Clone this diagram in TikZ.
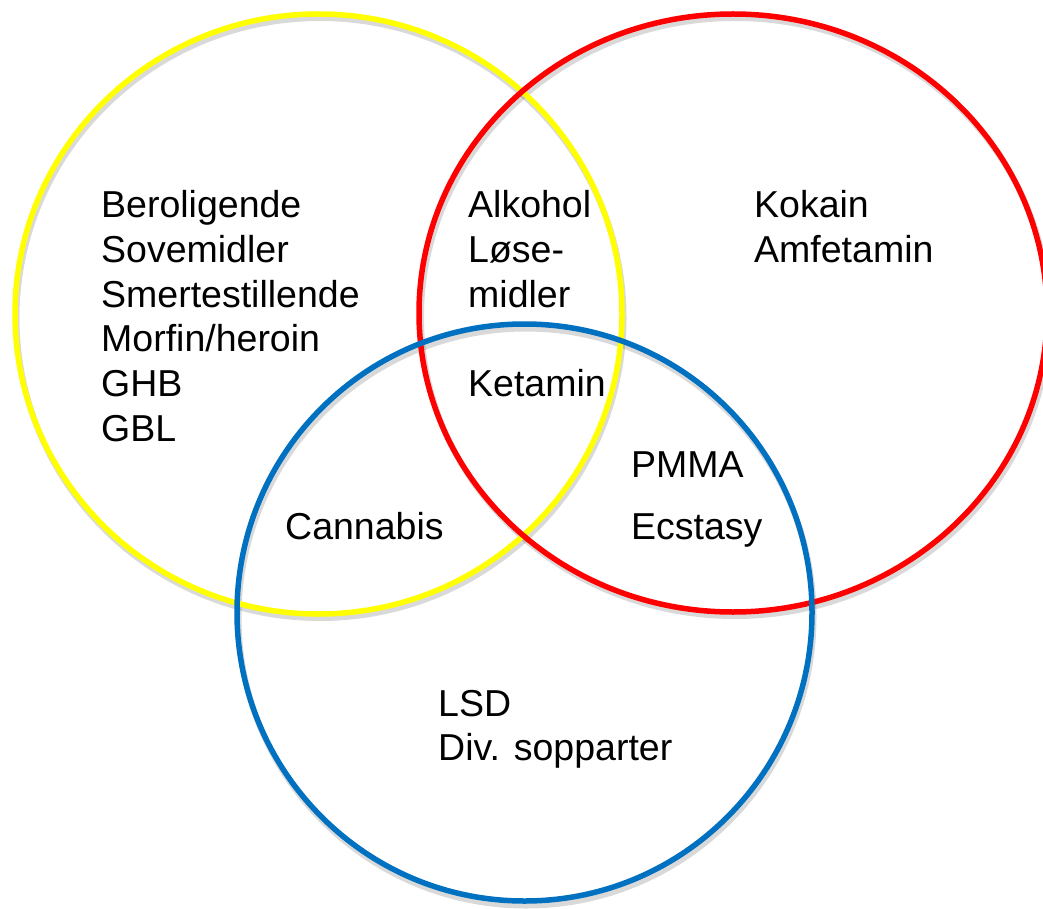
\documentclass[tikz,border=0pt]{standalone}
\usepackage{fontspec}
\setmainfont{Liberation Sans}
\definecolor{vyellow}{HTML}{FFFF00}
\definecolor{vred}{HTML}{FF0000}
\definecolor{vblue}{HTML}{0070C0}
\begin{document}
\begin{tikzpicture}[x=1pt,y=-1pt,
  ring/.style={line width=5.5pt},
  shade/.style={line width=6pt, draw=black, draw opacity=0.15},
  lbl/.style={anchor=base west, inner sep=0pt, font=\fontsize{37.5}{44.6}\selectfont}]
\useasboundingbox (0,0) rectangle (1043,909);
% shadows
\draw[shade] (320,318) ellipse [x radius=303.5pt, y radius=300pt];
\draw[shade] (735,317) ellipse [x radius=314pt, y radius=299pt];
\draw[shade] (526,617) ellipse [x radius=287.5pt, y radius=288.5pt];
% rings
\draw[ring, vyellow] (318.5,314) ellipse [x radius=303.5pt, y radius=300pt];
\draw[ring, vred] (733,313) ellipse [x radius=314pt, y radius=299pt];
\draw[ring, vblue] (524.5,612.5) ellipse [x radius=287.5pt, y radius=288.5pt];
% labels
\node[lbl] (t1) at (101,218) {Beroligende};
\node[lbl] (t2) at (101,262) {Sovemidler};
\node[lbl] (t3) at (101,307) {Smertestillende};
\node[lbl] (t4) at (101,351) {Morfin/heroin};
\node[lbl] (t5) at (101,396) {GHB};
\node[lbl] (t6) at (101,441) {GBL};
\node[lbl] (m1) at (468,218) {Alkohol};
\node[lbl] (m2) at (468,262) {Løse-};
\node[lbl] (m3) at (468,307) {midler};
\node[lbl] (m4) at (468,396) {Ketamin};
\node[lbl] (r1) at (754,218) {Kokain};
\node[lbl] (r2) at (754,262) {Amfetamin};
\node[lbl] (p1) at (631,477) {PMMA};
\node[lbl] (p2) at (631,539) {Ecstasy};
\node[lbl] (c1) at (285,539) {Cannabis};
\node[lbl] (b1) at (438,716) {LSD};
\node[lbl] (b2) at (438,760) {Div. sopparter};
\end{tikzpicture}
\end{document}
